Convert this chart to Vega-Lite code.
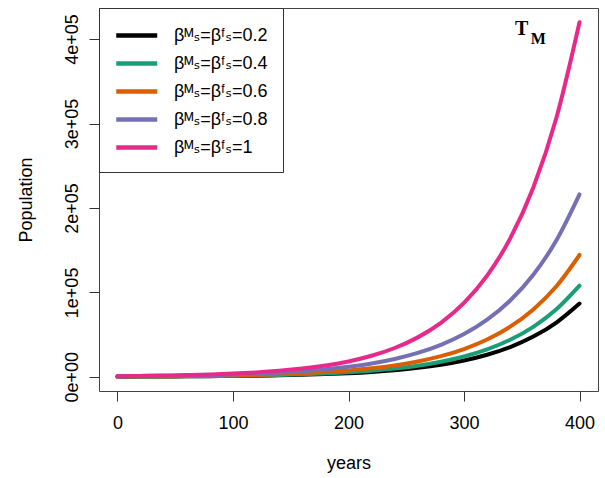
{
  "$schema": "https://vega.github.io/schema/vega-lite/v6.json",
  "width": 499,
  "height": 383,
  "autosize": {"type": "none"},
  "padding": {"left": 99, "top": 8, "right": 7, "bottom": 87},
  "background": "white",
  "config": {"view": {"stroke": "#444", "strokeWidth": 1}, "font": "Liberation Sans"},
  "layer": [
    {
      "data": {"values": [
        {"t": 0, "b": "0.2", "n": 215}, {"t": 20, "b": "0.2", "n": 290}, {"t": 40, "b": "0.2", "n": 392}, {"t": 60, "b": "0.2", "n": 529}, {"t": 80, "b": "0.2", "n": 714}, {"t": 100, "b": "0.2", "n": 964}, {"t": 120, "b": "0.2", "n": 1301}, {"t": 140, "b": "0.2", "n": 1757}, {"t": 160, "b": "0.2", "n": 2371}, {"t": 180, "b": "0.2", "n": 3201}, {"t": 200, "b": "0.2", "n": 4321}, {"t": 220, "b": "0.2", "n": 5833}, {"t": 240, "b": "0.2", "n": 7873}, {"t": 260, "b": "0.2", "n": 10630}, {"t": 280, "b": "0.2", "n": 14350}, {"t": 300, "b": "0.2", "n": 19370}, {"t": 320, "b": "0.2", "n": 26140}, {"t": 340, "b": "0.2", "n": 35290}, {"t": 360, "b": "0.2", "n": 47630}, {"t": 380, "b": "0.2", "n": 64300}, {"t": 400, "b": "0.2", "n": 86800},
        {"t": 0, "b": "0.4", "n": 267}, {"t": 20, "b": "0.4", "n": 361}, {"t": 40, "b": "0.4", "n": 487}, {"t": 60, "b": "0.4", "n": 658}, {"t": 80, "b": "0.4", "n": 888}, {"t": 100, "b": "0.4", "n": 1198}, {"t": 120, "b": "0.4", "n": 1618}, {"t": 140, "b": "0.4", "n": 2184}, {"t": 160, "b": "0.4", "n": 2948}, {"t": 180, "b": "0.4", "n": 3979}, {"t": 200, "b": "0.4", "n": 5371}, {"t": 220, "b": "0.4", "n": 7251}, {"t": 240, "b": "0.4", "n": 9788}, {"t": 260, "b": "0.4", "n": 13210}, {"t": 280, "b": "0.4", "n": 17830}, {"t": 300, "b": "0.4", "n": 24070}, {"t": 320, "b": "0.4", "n": 32500}, {"t": 340, "b": "0.4", "n": 43870}, {"t": 360, "b": "0.4", "n": 59210}, {"t": 380, "b": "0.4", "n": 79930}, {"t": 400, "b": "0.4", "n": 107900},
        {"t": 0, "b": "0.6", "n": 388}, {"t": 20, "b": "0.6", "n": 521}, {"t": 40, "b": "0.6", "n": 701}, {"t": 60, "b": "0.6", "n": 942}, {"t": 80, "b": "0.6", "n": 1266}, {"t": 100, "b": "0.6", "n": 1703}, {"t": 120, "b": "0.6", "n": 2289}, {"t": 140, "b": "0.6", "n": 3077}, {"t": 160, "b": "0.6", "n": 4137}, {"t": 180, "b": "0.6", "n": 5562}, {"t": 200, "b": "0.6", "n": 7478}, {"t": 220, "b": "0.6", "n": 10050}, {"t": 240, "b": "0.6", "n": 13520}, {"t": 260, "b": "0.6", "n": 18180}, {"t": 280, "b": "0.6", "n": 24440}, {"t": 300, "b": "0.6", "n": 32850}, {"t": 320, "b": "0.6", "n": 44170}, {"t": 340, "b": "0.6", "n": 59380}, {"t": 360, "b": "0.6", "n": 79830}, {"t": 380, "b": "0.6", "n": 107300}, {"t": 400, "b": "0.6", "n": 144300},
        {"t": 0, "b": "0.8", "n": 650}, {"t": 20, "b": "0.8", "n": 868}, {"t": 40, "b": "0.8", "n": 1161}, {"t": 60, "b": "0.8", "n": 1552}, {"t": 80, "b": "0.8", "n": 2075}, {"t": 100, "b": "0.8", "n": 2774}, {"t": 120, "b": "0.8", "n": 3708}, {"t": 140, "b": "0.8", "n": 4958}, {"t": 160, "b": "0.8", "n": 6628}, {"t": 180, "b": "0.8", "n": 8860}, {"t": 200, "b": "0.8", "n": 11850}, {"t": 220, "b": "0.8", "n": 15830}, {"t": 240, "b": "0.8", "n": 21170}, {"t": 260, "b": "0.8", "n": 28300}, {"t": 280, "b": "0.8", "n": 37830}, {"t": 300, "b": "0.8", "n": 50580}, {"t": 320, "b": "0.8", "n": 67630}, {"t": 340, "b": "0.8", "n": 90420}, {"t": 360, "b": "0.8", "n": 120900}, {"t": 380, "b": "0.8", "n": 161600}, {"t": 400, "b": "0.8", "n": 216000},
        {"t": 0, "b": "1", "n": 791}, {"t": 20, "b": "1", "n": 1082}, {"t": 40, "b": "1", "n": 1481}, {"t": 60, "b": "1", "n": 2027}, {"t": 80, "b": "1", "n": 2773}, {"t": 100, "b": "1", "n": 3796}, {"t": 120, "b": "1", "n": 5195}, {"t": 140, "b": "1", "n": 7109}, {"t": 160, "b": "1", "n": 9730}, {"t": 180, "b": "1", "n": 13320}, {"t": 200, "b": "1", "n": 18230}, {"t": 220, "b": "1", "n": 24940}, {"t": 240, "b": "1", "n": 34130}, {"t": 260, "b": "1", "n": 46710}, {"t": 280, "b": "1", "n": 63930}, {"t": 300, "b": "1", "n": 87500}, {"t": 320, "b": "1", "n": 119800}, {"t": 340, "b": "1", "n": 163900}, {"t": 360, "b": "1", "n": 224300}, {"t": 380, "b": "1", "n": 306900}, {"t": 400, "b": "1", "n": 420000}
      ]},
      "mark": {"type": "line", "strokeWidth": 4, "strokeCap": "round", "strokeJoin": "round", "interpolate": "monotone"},
      "encoding": {
        "x": {"field": "t", "type": "quantitative",
          "scale": {"domain": [-16, 416], "nice": false, "zero": false},
          "axis": {"title": "years", "values": [0, 100, 200, 300, 400], "grid": false, "domain": false, "tickSize": 10, "tickColor": "#333", "labelFontSize": 18, "labelColor": "black", "labelPadding": 13, "labelFlush": false, "labelOverlap": false, "titleFontSize": 18, "titleFontWeight": "normal", "titleColor": "black", "titlePadding": 22}},
        "y": {"field": "n", "type": "quantitative",
          "scale": {"domain": [-16800, 436800], "nice": false, "zero": false},
          "axis": {"title": "Population", "values": [0, 100000, 200000, 300000, 400000], "labelExpr": "datum.value == 0 ? '0e+00' : (datum.value / 100000) + 'e+05'", "grid": false, "domain": false, "tickSize": 10, "tickColor": "#333", "labelFontSize": 18, "labelColor": "black", "labelAngle": -90, "labelAlign": "center", "labelBaseline": "alphabetic", "labelPadding": 12, "labelFlush": false, "labelOverlap": false, "titleFontSize": 18, "titleFontWeight": "normal", "titleColor": "black", "titlePadding": 28}},
        "color": {"field": "b", "type": "nominal",
          "scale": {"domain": ["0.2", "0.4", "0.6", "0.8", "1"], "range": ["#000000", "#1B9E77", "#D95F02", "#7570B3", "#E7298A"]},
          "legend": {"title": null, "orient": "top-left", "offset": 0, "symbolType": "M-1,0H3", "symbolSize": 420, "symbolStrokeWidth": 4.5, "labelFontSize": 18, "labelFont": "Liberation Sans, DejaVu Sans", "labelColor": "black", "labelOffset": 35, "rowPadding": 6, "padding": 15, "strokeColor": "#333", "fillColor": "white", "labelExpr": "'βᴹₛ=βᶠₛ=' + datum.label"}}
      }
    },
    {
      "data": {"values": [{}]},
      "mark": {"type": "text", "text": "T", "font": "Liberation Serif", "fontSize": 20, "fontWeight": "bold", "color": "black", "align": "center", "baseline": "alphabetic"},
      "encoding": {"x": {"datum": 350}, "y": {"datum": 405000}}
    },
    {
      "data": {"values": [{}]},
      "mark": {"type": "text", "text": "M", "font": "Liberation Serif", "fontSize": 16, "fontWeight": "bold", "color": "black", "align": "center", "baseline": "alphabetic"},
      "encoding": {"x": {"datum": 364.4}, "y": {"datum": 394000}}
    }
  ]
}
